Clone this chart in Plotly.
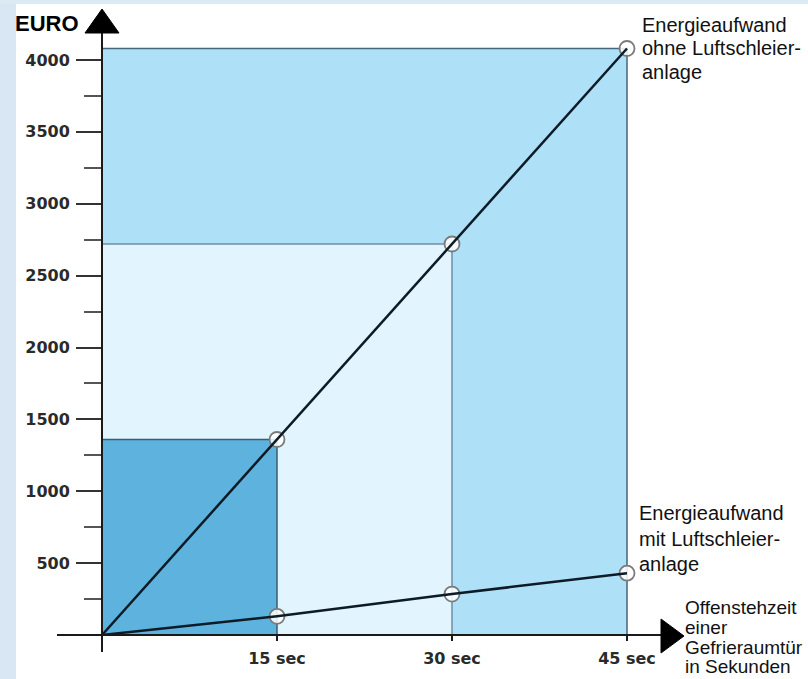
import plotly.graph_objects as go

# ---------------- data ----------------
seconds = [0, 15, 30, 45]
x_tick_labels = ["15 sec", "30 sec", "45 sec"]
euro_without = [0, 1360, 2720, 4080]   # Energieaufwand ohne Luftschleieranlage
euro_with = [0, 130, 285, 430]         # Energieaufwand mit Luftschleieranlage
y_ticks = [500, 1000, 1500, 2000, 2500, 3000, 3500, 4000]
y_minor = [250, 750, 1250, 1750, 2250, 2750, 3250, 3750]

rect_fills = ["#5db3de", "#e2f4fd", "#aee0f8"]   # 15, 30, 45 sec
rect_edges = ["#3b5d72", "#6d8fa3", "#46667a"]

# ---------------- geometry helpers ----------------
W, H = 808, 679
L, R, T, B = 102, 670, 10, 635


def xp(px):
    return (px - L) / (R - L)


def yp(py):
    return (B - py) / (B - T)


fig = go.Figure()

# shaded rectangles (largest first)
for i in [2, 1, 0]:
    fig.add_shape(type="rect", xref="x", yref="y",
                  x0=0, x1=seconds[i + 1], y0=0, y1=euro_without[i + 1],
                  fillcolor=rect_fills[i],
                  line=dict(color=rect_edges[i], width=1.5), layer="below")

# circles at the points
fig.add_trace(go.Scatter(
    x=seconds[1:] + seconds[1:], y=euro_without[1:] + euro_with[1:],
    mode="markers",
    marker=dict(size=15, color="rgba(255,255,255,0.85)",
                line=dict(color="#7a7a7a", width=1.8)),
    hoverinfo="skip", showlegend=False))

# lines
for ys in (euro_without, euro_with):
    fig.add_trace(go.Scatter(x=seconds, y=ys, mode="lines",
                             line=dict(color="#0d1b26", width=2.5),
                             showlegend=False))

# page decoration: light blue strips
fig.add_shape(type="rect", xref="paper", yref="paper",
              x0=xp(0), x1=xp(16), y0=yp(H), y1=yp(0),
              fillcolor="#d8e7f3", line=dict(width=0), layer="below")
fig.add_shape(type="rect", xref="paper", yref="paper",
              x0=xp(0), x1=xp(W), y0=yp(4), y1=yp(0),
              fillcolor="#dceaf4", line=dict(width=0), layer="below")

# axis lines and arrows
axc = "#1a1a1a"
fig.add_shape(type="line", xref="paper", yref="paper",
              x0=xp(57), x1=xp(664), y0=yp(B), y1=yp(B),
              line=dict(color=axc, width=2), layer="above")
fig.add_shape(type="line", xref="paper", yref="paper",
              x0=xp(L), x1=xp(L), y0=yp(652), y1=yp(30),
              line=dict(color=axc, width=2), layer="above")
fig.add_shape(type="path", xref="paper", yref="paper",
              path=f"M {xp(85)},{yp(33)} L {xp(119)},{yp(33)} L {xp(102)},{yp(9)} Z",
              fillcolor="#000000", line=dict(color="#000000", width=1), layer="above")
fig.add_shape(type="path", xref="paper", yref="paper",
              path=f"M {xp(661)},{yp(619)} L {xp(661)},{yp(653)} L {xp(684)},{yp(636)} Z",
              fillcolor="#000000", line=dict(color="#000000", width=1), layer="above")

# text annotations (one per line)
ann_font = dict(family="Liberation Sans, Arial, sans-serif", color="#111111")


def add_line(text, x_px, center_py, size, bold=False):
    f = dict(ann_font, size=size)
    if bold:
        f["weight"] = "bold"
        f["color"] = "#000000"
    fig.add_annotation(text=text, xref="paper", yref="paper",
                       x=xp(x_px), y=yp(center_py), xanchor="left", yanchor="middle",
                       showarrow=False, font=f)


add_line("EURO", 13, 23, 22, bold=True)

for txt, cy in zip(["Energieaufwand", "ohne Luftschleier-", "anlage"], [25, 48.5, 71.5]):
    add_line(txt, 640, cy, 20)

for txt, cy in zip(["Energieaufwand", "mit Luftschleier-", "anlage"], [513, 538.5, 564]):
    add_line(txt, 637, cy, 20)

for txt, cy in zip(["Offenstehzeit", "einer", "Gefrieraumtür", "in Sekunden"], [607, 627, 647, 666]):
    add_line(txt, 683, cy, 19)

tick_font = dict(family="DejaVu Sans", size=16, color="#2a2a2a", weight="bold")

fig.update_layout(
    template="none",
    width=W, height=H,
    margin=dict(l=L, r=W - R, t=T, b=H - B, pad=0),
    paper_bgcolor="#ffffff",
    plot_bgcolor="#ffffff",
    showlegend=False,
    xaxis=dict(range=[0, 45 * (R - L) / 525.0], showgrid=False, zeroline=False,
               showline=False, tickmode="array", tickvals=seconds[1:],
               ticktext=x_tick_labels, ticks="outside", ticklen=5, tickwidth=2,
               tickcolor=axc, tickfont=tick_font, ticklabelstandoff=4,
               automargin=False, fixedrange=True),
    yaxis=dict(range=[0, 4000 * (B - T) / 575.0], showgrid=False, zeroline=False,
               showline=False, tickmode="array", tickvals=y_ticks,
               ticks="outside", ticklen=25, tickwidth=2, tickcolor="#333333",
               tickfont=tick_font, ticklabelstandoff=3,
               minor=dict(tickmode="array", tickvals=y_minor, ticks="outside",
                          ticklen=17, tickwidth=2, tickcolor="#555555", showgrid=False),
               automargin=False, fixedrange=True),
)

fig.write_html("out.html", config={"displayModeBar": False},
               post_script="document.body.style.margin='0';document.body.style.padding='0';"
                           "document.body.style.overflow='hidden';")
